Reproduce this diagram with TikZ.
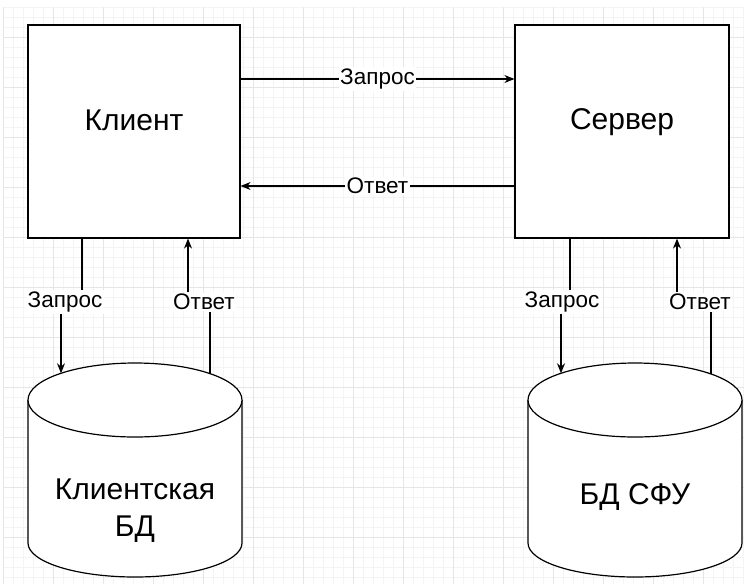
\documentclass[tikz,border=0pt]{standalone}
\usepackage{fontspec}
\setmainfont{Liberation Sans}
\usetikzlibrary{calc}
\usetikzlibrary{arrows.meta}
\usetikzlibrary{positioning}

\definecolor{gridminor}{HTML}{F4F4F4}
\definecolor{gridmajor}{HTML}{E6E6E6}
\newcommand{\bigtxt}{\fontsize{30}{37}\selectfont}
\newcommand{\edgetxt}{\fontsize{22.5}{26}\selectfont}

\tikzset{
  block/.style={draw, fill=white, minimum width=212pt, minimum height=213pt},
  elabel/.style={fill=white, inner sep=1.5pt, font=\edgetxt},
  conn/.style={line width=1.2pt},
  dbbody/.style={draw, fill=white, line width=1.2pt}
}

\begin{document}
\begin{tikzpicture}[x=1pt, y=-1pt, >={Stealth[length=10pt,width=8pt]}]
    \useasboundingbox (0,0) rectangle (744,584);
    \fill[white] (0,0) rectangle (744,584);
    % grid
    \foreach \gx in {3,13,...,743} \draw[gridminor, line width=0.8pt] (\gx,7) -- (\gx,584);
    \foreach \gy in {7,17,...,583} \draw[gridminor, line width=0.8pt] (3,\gy) -- (744,\gy);
    \foreach \gx in {3,53,...,743} \draw[gridmajor, line width=1pt] (\gx,7) -- (\gx,584);
    \foreach \gy in {37,87,...,583} \draw[gridmajor, line width=1pt] (3,\gy) -- (744,\gy);

    % client and server
    \node[block, line width=1.2pt] (client) at (134,131.5) {};
    \node[block, line width=1.2pt, minimum width=214pt] (server) at (622,131.5) {};
    \node[font=\bigtxt] (clientname) at ($(client.center)+(0,-11)$) {Клиент};
    \node[font=\bigtxt] (servername) at ($(server.center)+(0,-9)$) {Сервер};

    \draw[conn, ->] (client.east |- 0,79) -- (server.west |- 0,79) node [midway, elabel] (req) {Запрос};
    \draw[conn, ->] (server.west |- 0,186) -- (client.east |- 0,186) node [midway, elabel] (resp) {Ответ};

    % databases
    \draw[dbbody] (28,400) -- (28,543) arc [start angle=180, end angle=360, x radius=107pt, y radius=34pt] -- (242,400);
    \draw[dbbody] (135,400) ellipse [x radius=107pt, y radius=37pt];
    \node[font=\bigtxt, align=center] (cdb) at (135,511) {Клиентская\\БД};
    \draw[dbbody] (528,400) -- (528,543) arc [start angle=180, end angle=360, x radius=107pt, y radius=34pt] -- (742,400);
    \draw[dbbody] (635,400) ellipse [x radius=107pt, y radius=37pt];
    \node[font=\bigtxt] (sdb) at (635,497) {БД СФУ};

    % points on the cylinder tops
    \coordinate (cdbin) at (61,373.3);
    \coordinate (cdbout) at (210,373.6);
    \coordinate (sdbin) at (561,373.3);
    \coordinate (sdbout) at (711,374);

    % client <-> client db
    \node[elabel] (creq) at (65,302) {Запрос};
    \node[elabel] (cresp) at (204,302) {Ответ};
    \draw[conn] (client.south -| 82,0) -- (creq.north -| 82,0);
    \draw[conn, ->] (creq.south -| cdbin) -- (cdbin);
    \draw[conn] (cdbout) -- (cresp.south -| cdbout);
    \draw[conn, ->] (cresp.north -| 188,0) -- (client.south -| 188,0);

    % server <-> db
    \node[elabel] (sreq) at (562,302) {Запрос};
    \node[elabel] (sresp) at (700,302) {Ответ};
    \draw[conn] (server.south -| 570,0) -- (sreq.north -| 570,0);
    \draw[conn, ->] (sreq.south -| sdbin) -- (sdbin);
    \draw[conn] (sdbout) -- (sresp.south -| sdbout);
    \draw[conn, ->] (sresp.north -| 677,0) -- (server.south -| 677,0);
\end{tikzpicture}
\end{document}
